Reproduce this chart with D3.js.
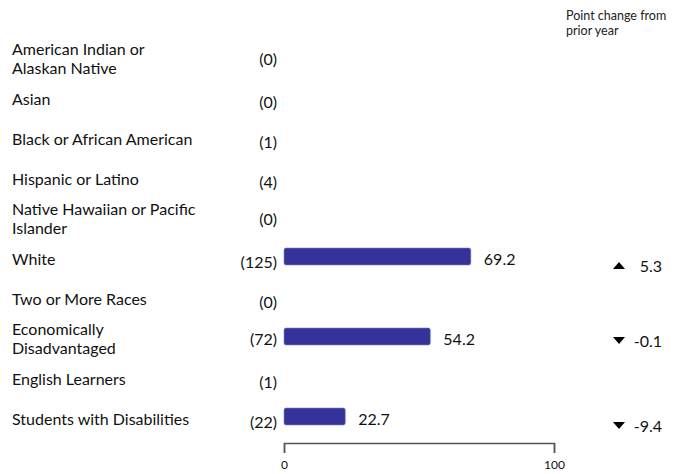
<!DOCTYPE html>
<html><head><meta charset="utf-8">
<script src="https://cdn.jsdelivr.net/npm/d3@7/dist/d3.min.js"></script>
<style>body{margin:0;background:#fff}svg{display:block;font-family:Lato,"Open Sans",sans-serif;font-weight:400}</style>
</head><body><svg id="c" width="681" height="474"></svg>
<script>
const categories = [
  ["American Indian or","Alaskan Native"],
  ["Asian"],
  ["Black or African American"],
  ["Hispanic or Latino"],
  ["Native Hawaiian or Pacific","Islander"],
  ["White"],
  ["Two or More Races"],
  ["Economically","Disadvantaged"],
  ["English Learners"],
  ["Students with Disabilities"]
];
const counts = [0,0,1,4,0,125,0,72,1,22];
const values = [null,null,null,null,null,69.2,null,54.2,null,22.7];
const changes = [null,null,null,null,null,5.3,null,-0.1,null,-9.4];
const xTicks = [0,100];
const headerLines = ["Point change from","prior year"];

const svg = d3.select("#c");
const x = d3.scaleLinear().domain([0,100]).range([284,554]);
const y = d3.scaleBand().domain(d3.range(categories.length)).range([38.5,438.5]).paddingInner(0.575).paddingOuter(0.2875);
const cy = i => y(i) + y.bandwidth()/2;
const single = i => categories[i].length === 1;

// header
svg.append("text").attr("x",566).attr("y",20).attr("font-size",12.5).attr("fill","#222")
  .selectAll("tspan").data(headerLines).join("tspan").attr("x",566).attr("dy",(d,i)=>i?14.5:0).text(d=>d);

const rows = svg.selectAll("g.row").data(categories).join("g").attr("class","row");

rows.append("text").attr("x",12).attr("font-size",16).attr("fill","#111")
  .attr("y",(d,i)=>cy(i) - (d.length-1)*9.5 + 6)
  .selectAll("tspan").data(d=>d).join("tspan").attr("x",12).attr("dy",(d,i)=>i?19:0).text(d=>d);

rows.append("text").attr("x",277).attr("text-anchor","end").attr("font-size",16).attr("fill","#111")
  .attr("y",(d,i)=>cy(i)+6+(single(i)?3:0)).text((d,i)=>"("+counts[i]+")");

const bi = d3.range(categories.length).filter(i=>values[i]!=null);
svg.selectAll("rect.bar").data(bi).join("rect").attr("class","bar")
  .attr("x",x(0)).attr("y",i=>y(i)-2).attr("height",y.bandwidth()).attr("width",i=>x(values[i])-x(0))
  .attr("rx",2).attr("fill","#343399").attr("stroke","#8080c8").attr("stroke-width",0.6);
svg.selectAll("text.val").data(bi).join("text").attr("class","val")
  .attr("x",i=>x(values[i])+13).attr("y",i=>cy(i)+6.5).attr("font-size",16).attr("fill","#111")
  .text(i=>values[i].toFixed(1));

const ci = d3.range(categories.length).filter(i=>changes[i]!=null);
const chOff = i => single(i)?7:2;
svg.selectAll("path.tri").data(ci).join("path").attr("class","tri")
  .attr("transform",i=>`translate(619,${cy(i)+chOff(i)})`)
  .attr("d",i=>changes[i]>=0?"M-6,3.5L6,3.5L0,-3.5Z":"M-6,-3.5L6,-3.5L0,3.5Z").attr("fill","#000");
svg.selectAll("text.chg").data(ci).join("text").attr("class","chg")
  .attr("x",662).attr("text-anchor","end").attr("y",i=>cy(i)+chOff(i)+6).attr("font-size",16).attr("fill","#111")
  .text(i=>changes[i].toFixed(1));

const ax = svg.append("g").attr("transform","translate(0,443)")
  .call(d3.axisBottom(x).tickValues(xTicks).tickSize(10).tickSizeOuter(10).tickFormat(d3.format("d")));
ax.select(".domain").attr("stroke","#555").attr("stroke-width",1.5);
ax.selectAll(".tick line").attr("stroke","#555").attr("stroke-width",1.5);
ax.selectAll(".tick text").attr("font-size",12).attr("fill","#111").attr("font-family","Lato,sans-serif").attr("y",17);
</script></body></html>
